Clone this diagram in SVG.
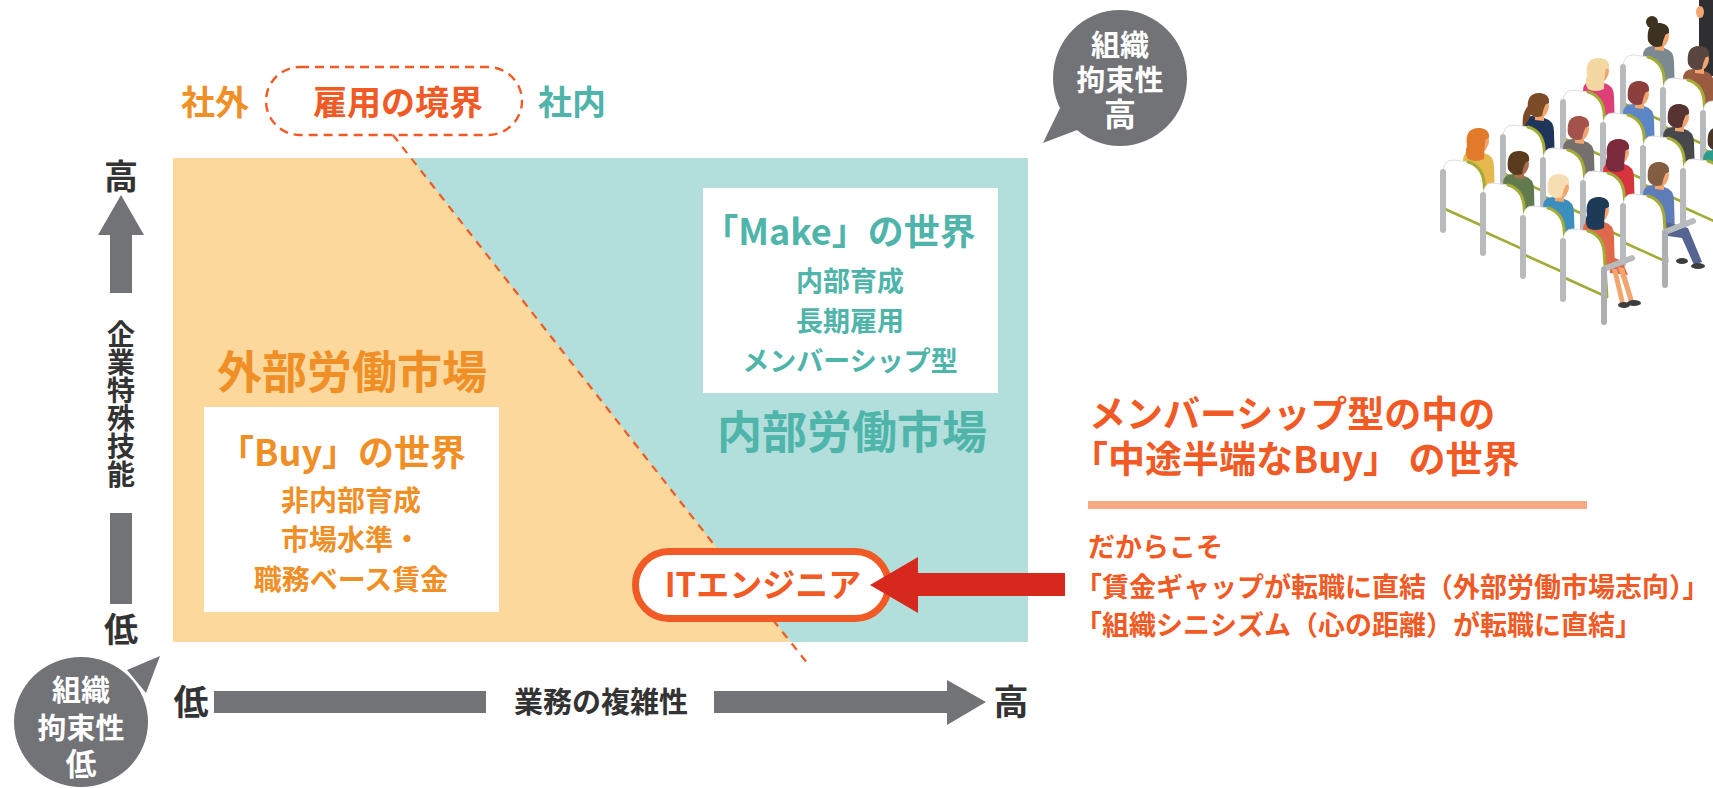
<svg xmlns="http://www.w3.org/2000/svg" xmlns:xlink="http://www.w3.org/1999/xlink" width="1713" height="788" viewBox="0 0 1713 788">
<defs>
<style>
text{font-family:"Noto Sans CJK JP","Noto Sans CJK SC","Noto Sans",sans-serif;font-weight:700}
.mid{text-anchor:middle}
.or{fill:#ef8f26}
.tl{fill:#4fb4aa}
.rd{fill:#f15a24}
.dk{fill:#333333}
.wt{fill:#ffffff}
.gray{fill:#727376}
.dash{fill:none;stroke:#f15a24;stroke-width:2.4;stroke-dasharray:9 6}
.skin{fill:#f1a56f}
.vert{writing-mode:vertical-rl}
</style>
<!-- seated audience parts, positioned relative to the head centre -->
<path id="torso" d="M-15,19 Q-15,9 -5,9 L6,11 Q16,13 16,25 L17,58 L-14,52 Z"/>
<path id="neck" d="M-3,6 L6,6 L6,14 L-3,13 Z"/>
<ellipse id="head" cx="1" cy="-1" rx="10" ry="11.5"/>
<path id="hs" d="M-10,4 Q-12.5,-15 2.5,-14 Q12.5,-12.5 11,-4 L7.5,-2.5 Q5,2.5 4,9 Q-5,12.5 -10,4 Z"/>
<path id="hl" d="M-11,4 Q-14,-15 2.5,-14 Q12.5,-12.5 11,-4 L7.5,-2.5 Q6,7.5 6,17 Q-2.5,21 -10,17 Q-14,11 -11,4 Z"/>
<g id="hb"><use href="#hs"/><circle cx="-6" cy="-15" r="6"/></g>
<g id="hp"><use href="#hs"/><path d="M-9,-2 Q-17,5 -15,22 Q-10,15 -6,5 Z"/></g>
<g id="chair">
<path d="M-35,31 Q-35,18 -25,18 L-9,20 Q4,24 6,40 L9,86 L-33,68 Q-35,67 -35,62 Z" fill="#ffffff" stroke="#dcdde0" stroke-width="1"/>
<path d="M-10,20 Q4,24 6,40 L9,86" fill="none" stroke="#a3ab35" stroke-width="3" stroke-linecap="round"/>
<path d="M-33,67 L9,86" fill="none" stroke="#a3ab35" stroke-width="2.5"/>
<rect x="-38" y="27" width="6" height="64" rx="3" fill="#b8bbbe"/>
</g>
<g id="arm">
<path d="M0,2 L28,-9" stroke="#b8bbbe" stroke-width="6" stroke-linecap="round"/>
<rect x="-3" y="0" width="6" height="58" rx="3" fill="#adb0b3"/>
</g>
</defs>

<rect width="1713" height="788" fill="#ffffff"/>

<!-- market panel: external (orange) and internal (teal) -->
<g id="panel">
<rect x="173" y="158" width="855" height="484" fill="#fcd89c"/>
<polygon points="411,158 1028,158 1028,642 791,642" fill="#b2dfdc"/>
<text class="or mid" x="352" y="389" font-size="45">外部労働市場</text>
<text class="tl mid" x="852" y="449" font-size="45">内部労働市場</text>
</g>

<!-- vertical axis -->
<g id="axis-skill">
<text class="dk mid" x="121" y="189" font-size="34">高</text>
<path class="gray" d="M121,195 L144,235 L132,235 L132,293 L110,293 L110,235 L98,235 Z"/>
<text class="dk vert" x="121" y="320" font-size="28">企業特殊技能</text>
<rect class="gray" x="110" y="513" width="22" height="91"/>
<text class="dk mid" x="121" y="642" font-size="34">低</text>
</g>

<!-- horizontal axis -->
<g id="axis-complexity">
<text class="dk mid" x="191" y="715" font-size="35">低</text>
<rect class="gray" x="214" y="691" width="272" height="22"/>
<text class="dk mid" x="601" y="713" font-size="29">業務の複雑性</text>
<path class="gray" d="M714,691 L947,691 L947,680 L986,702 L947,725 L947,713 L714,713 Z"/>
<text class="dk mid" x="1011" y="715" font-size="35">高</text>
</g>

<!-- employment boundary label -->
<g id="boundary-label">
<text class="or mid" x="215" y="115" font-size="34">社外</text>
<rect class="dash" x="266" y="67" width="256" height="68" rx="34"/>
<text class="rd mid" x="398" y="115" font-size="34">雇用の境界</text>
<text class="tl mid" x="572" y="115" font-size="34">社内</text>
</g>

<!-- Buy world -->
<g id="buy-box">
<rect x="204" y="407" width="295" height="205" fill="#ffffff"/>
<text class="or mid" x="342" y="466" font-size="36">「Buy」の世界</text>
<text class="or mid" font-size="28"><tspan x="351" y="511">非内部育成</tspan><tspan x="351" y="550">市場水準・</tspan><tspan x="351" y="590">職務ベース賃金</tspan></text>
</g>

<!-- Make world -->
<g id="make-box">
<rect x="703" y="188" width="295" height="205" fill="#ffffff"/>
<text class="tl mid" x="839" y="245" font-size="36">「Make」の世界</text>
<text class="tl mid" font-size="27"><tspan x="850" y="291">内部育成</tspan><tspan x="850" y="331">長期雇用</tspan><tspan x="850" y="371">メンバーシップ型</tspan></text>
</g>

<!-- IT engineer -->
<g id="it-engineer">
<rect x="635.5" y="551.5" width="253" height="67" rx="33.5" fill="#ffffff" stroke="#f15a24" stroke-width="7"/>
<text class="rd mid" x="763" y="597" font-size="33">ITエンジニア</text>
</g>

<!-- speech bubbles -->
<g id="bubble-high">
<ellipse class="gray" cx="1120" cy="78" rx="67" ry="68"/>
<path class="gray" d="M1060,108 L1043,143 L1085,127 Z"/>
<text class="wt mid" font-size="29"><tspan x="1120" y="56">組織</tspan><tspan x="1120" y="91">拘束性</tspan><tspan x="1120" y="126" font-size="32">高</tspan></text>
</g>
<g id="bubble-low">
<ellipse class="gray" cx="81" cy="722" rx="67" ry="65"/>
<path class="gray" d="M127,670 L160,656 L146,693 Z"/>
<text class="wt mid" font-size="29"><tspan x="81" y="701">組織</tspan><tspan x="81" y="739">拘束性</tspan><tspan x="81" y="775" font-size="31">低</tspan></text>
</g>

<!-- summary -->
<g id="summary">
<text class="rd" font-size="37"><tspan x="1089" y="428">メンバーシップ型の中の</tspan><tspan x="1071" y="473">「中途半端なBuy」 の世界</tspan></text>
<rect x="1088" y="501" width="499" height="8" fill="#f6a982"/>
<text class="rd" font-size="27"><tspan x="1088" y="557">だからこそ</tspan><tspan x="1075" y="597">「賃金ギャップが転職に直結（外部労働市場志向）」</tspan><tspan x="1075" y="635">「組織シニシズム（心の距離）が転職に直結」</tspan></text>
</g>

<!-- connectors -->
<g id="connectors">
<path class="dash" style="stroke-dasharray:8 7;stroke-width:2.2" d="M393,135 L719,551"/>
<path class="dash" style="stroke-dasharray:8 7;stroke-width:2.2" d="M773,620 L808,664"/>
<polygon points="1065,573 918,573 918,557 870,585 918,613 918,596 1065,596" fill="#d6281d"/>
</g>

<!-- seated audience -->
<g id="audience">
<rect x="1699" y="0" width="14" height="76" fill="#2f2f31"/>
<ellipse cx="1700" cy="12" rx="4" ry="6" class="skin"/>
<!-- back row -->
<g transform="translate(1658,37)"><use href="#torso" fill="#7d8991"/><use href="#neck" class="skin"/><use href="#head" class="skin"/><use href="#hb" fill="#3d3220"/><use href="#chair"/></g>
<g transform="translate(1698,60)"><use href="#torso" fill="#9a5b40"/><use href="#neck" class="skin"/><use href="#head" class="skin"/><use href="#hs" fill="#5a4640"/><use href="#chair"/></g>
<g transform="translate(1738,83)"><use href="#chair"/></g>
<!-- third row -->
<g transform="translate(1598,72)"><use href="#torso" fill="#df3f78"/><use href="#neck" class="skin"/><use href="#head" class="skin"/><use href="#hl" fill="#f4d8a2"/><use href="#chair"/></g>
<g transform="translate(1638,95)"><use href="#torso" fill="#5c86c6"/><use href="#neck" class="skin"/><use href="#head" class="skin"/><use href="#hs" fill="#8d3f3e"/><use href="#chair"/></g>
<g transform="translate(1678,118)"><use href="#torso" fill="#47484b"/><use href="#neck" class="skin"/><use href="#head" class="skin"/><use href="#hs" fill="#573431"/><use href="#chair"/></g>
<g transform="translate(1718,141)"><use href="#torso" fill="#2b9c8e"/><use href="#neck" class="skin"/><use href="#head" class="skin"/><use href="#hs" fill="#4a3626"/><use href="#chair"/></g>
<!-- second row -->
<g transform="translate(1538,107)"><use href="#torso" fill="#1f355a"/><use href="#neck" class="skin"/><use href="#head" class="skin"/><use href="#hp" fill="#7b4b27"/><use href="#chair"/></g>
<g transform="translate(1578,130)"><use href="#torso" fill="#75706d"/><use href="#neck" class="skin"/><use href="#head" class="skin"/><use href="#hs" fill="#a3524c"/><use href="#chair"/></g>
<g transform="translate(1618,153)"><use href="#torso" fill="#d8343d"/><use href="#neck" class="skin"/><use href="#head" class="skin"/><use href="#hl" fill="#7b2b3b"/><use href="#chair"/></g>
<g transform="translate(1658,176)"><use href="#torso" fill="#5e7db8"/><use href="#neck" class="skin"/><use href="#head" class="skin"/><use href="#hs" fill="#825d42"/><use href="#chair"/>
<path d="M8,46 L30,52 L44,86 L36,89 L24,62 L10,60 Z" fill="#56658f"/>
<ellipse cx="40" cy="90" rx="7" ry="3" fill="#3d3d3f"/><ellipse cx="24" cy="85" rx="6" ry="3" fill="#3d3d3f"/>
<use href="#arm" x="7" y="54"/></g>
<!-- front row -->
<g transform="translate(1478,142)"><use href="#torso" fill="#e6b94f"/><use href="#neck" class="skin"/><use href="#head" class="skin"/><use href="#hl" fill="#e17b2b"/><use href="#chair"/></g>
<g transform="translate(1518,165)"><use href="#torso" fill="#617b4f"/><use href="#neck" fill="#a8714a"/><use href="#head" fill="#a8714a"/><use href="#hs" fill="#5b3b1d"/><use href="#chair"/></g>
<g transform="translate(1558,188)"><use href="#torso" fill="#3c8ebc"/><use href="#neck" class="skin"/><use href="#head" class="skin"/><use href="#hs" fill="#f6deb2"/><use href="#chair"/></g>
<g transform="translate(1598,211)"><use href="#torso" fill="#e0694b"/><use href="#neck" class="skin"/><use href="#head" class="skin"/><use href="#hl" fill="#1d3a56"/><use href="#chair"/>
<path d="M10,44 L24,50 L30,64 L12,62 Z" fill="#e0694b"/>
<path d="M20,56 L26,57 L36,90 L31,91 Z" class="skin"/><path d="M14,58 L19,58 L27,92 L22,92 Z" class="skin"/>
<ellipse cx="36" cy="92" rx="7" ry="3" fill="#3d3d3f"/><ellipse cx="26" cy="94" rx="6" ry="3" fill="#3d3d3f"/>
<use href="#arm" x="6" y="56"/></g>
</g>
</svg>
